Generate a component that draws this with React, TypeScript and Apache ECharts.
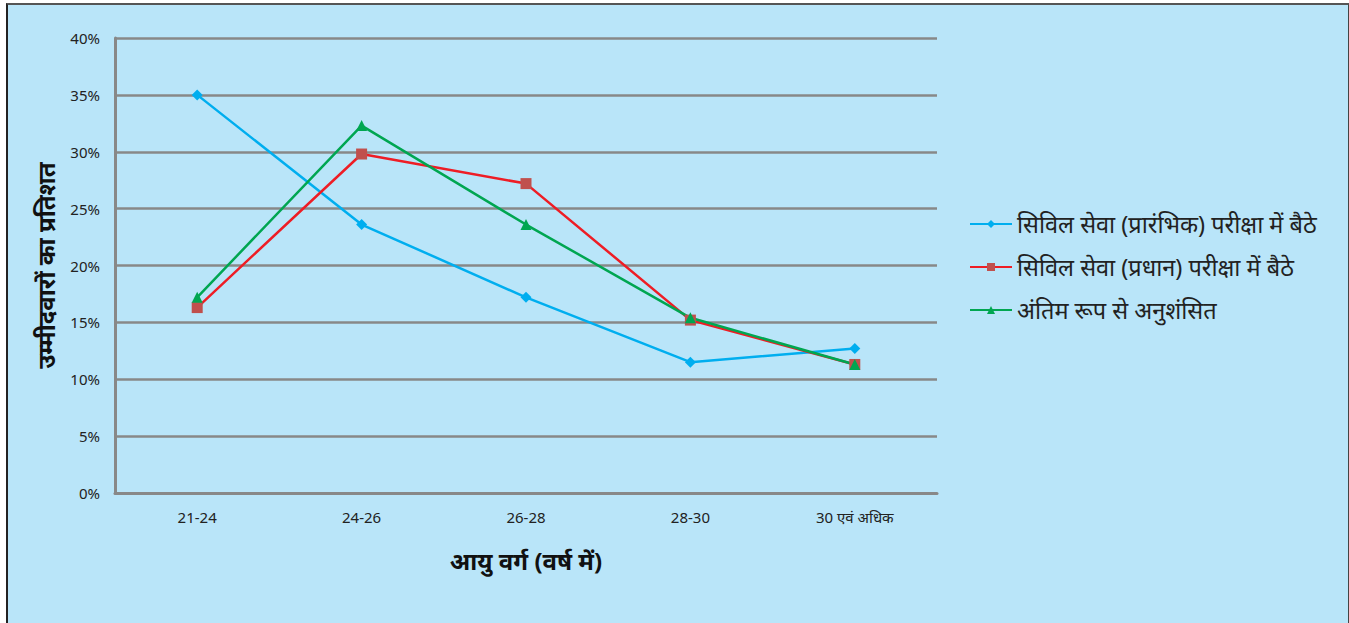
import React, { useEffect, useRef } from "react";
import * as echarts from "echarts";

const ageGroups = ["21-24", "24-26", "26-28", "28-30", "30 एवं अधिक"];
const preliminary = [35.0, 23.6, 17.2, 11.5, 12.7];
const mains = [16.3, 29.8, 27.2, 15.2, 11.3];
const recommended = [17.2, 32.3, 23.6, 15.4, 11.3];
const seriesNames = [
  "सिविल सेवा (प्रारंभिक) परीक्षा में बैठे",
  "सिविल सेवा (प्रधान) परीक्षा में बैठे",
  "अंतिम रूप से अनुशंसित",
];

const FONT = "'Noto Sans', 'Noto Sans Devanagari', sans-serif";
const AXIS_GRAY = "#888888";

export default function App() {
  const ref = useRef<HTMLDivElement>(null);

  useEffect(() => {
    if (!ref.current) return;
    const chart = echarts.init(ref.current, null, { renderer: "svg" });
    chart.setOption({
      animation: false,
      backgroundColor: "transparent",
      textStyle: { fontFamily: FONT },
      grid: { left: 115, right: 412, top: 38, bottom: 130 },
      legend: {
        orient: "vertical",
        left: 964,
        top: 207,
        itemGap: 19,
        itemWidth: 42,
        itemHeight: 10,
        textStyle: { fontSize: 23.5, color: "#222", fontFamily: FONT },
        data: seriesNames,
      },
      xAxis: {
        type: "category",
        data: ageGroups,
        boundaryGap: true,
        axisLine: { lineStyle: { color: AXIS_GRAY, width: 3 } },
        axisTick: { show: false },
        axisLabel: { color: "#222", fontSize: 15, margin: 16, fontFamily: FONT },
        name: "आयु वर्ग (वर्ष में)",
        nameLocation: "middle",
        nameGap: 55,
        nameTextStyle: { fontSize: 24, fontWeight: "bold", color: "#111", fontFamily: FONT },
      },
      yAxis: {
        type: "value",
        min: 0,
        max: 40,
        interval: 5,
        axisLine: { show: true, lineStyle: { color: AXIS_GRAY, width: 3 } },
        axisTick: { show: false },
        axisLabel: { formatter: "{value}%", color: "#222", fontSize: 15, margin: 15, fontFamily: FONT },
        splitLine: { lineStyle: { color: AXIS_GRAY, width: 2.5 } },
        name: "उम्मीदवारों का प्रतिशत",
        nameLocation: "middle",
        nameRotate: 90,
        nameGap: 58,
        nameTextStyle: { fontSize: 24, fontWeight: "bold", color: "#111", fontFamily: FONT },
      },
      series: [
        {
          name: seriesNames[0],
          type: "line",
          data: preliminary,
          symbol: "diamond",
          symbolSize: 11,
          lineStyle: { color: "#00aeef", width: 2.5 },
          itemStyle: { color: "#00aeef" },
        },
        {
          name: seriesNames[1],
          type: "line",
          data: mains,
          symbol: "rect",
          symbolSize: 11,
          lineStyle: { color: "#ee1d25", width: 2.5 },
          itemStyle: { color: "#c0504d" },
        },
        {
          name: seriesNames[2],
          type: "line",
          data: recommended,
          symbol: "triangle",
          symbolSize: 11,
          lineStyle: { color: "#00a651", width: 2.5 },
          itemStyle: { color: "#00a651" },
        },
      ],
    });
    return () => chart.dispose();
  }, []);

  return (
    <div
      style={{
        position: "fixed",
        left: 0,
        top: 0,
        width: 1349,
        height: 623,
        background: "#ffffff",
      }}
    >
      <div
        style={{
          position: "absolute",
          left: 6,
          top: 3,
          width: 1340,
          height: 640,
          background: "#b9e5f9",
          borderLeft: "2px solid #222",
          borderTop: "2px solid #555",
          borderRight: "2px solid #444",
        }}
      />
      <div
        ref={ref}
        style={{ position: "absolute", left: 0, top: 0, width: 1349, height: 623 }}
      />
    </div>
  );
}
